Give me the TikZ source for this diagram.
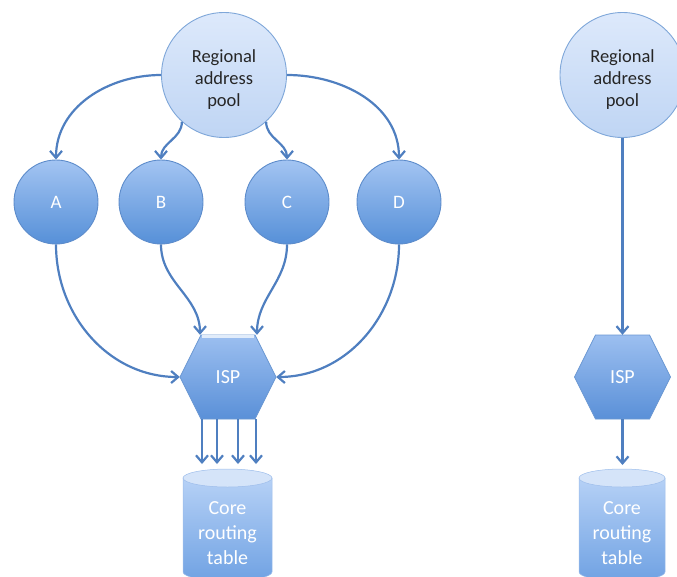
\documentclass[tikz,border=0pt]{standalone}
\usepackage{fontspec}
\setmainfont{Carlito}
\usetikzlibrary{arrows.meta,calc}
\definecolor{arrowc}{HTML}{4F7FC0}
\definecolor{poolt}{HTML}{DDE9FB}
\definecolor{poolbot}{HTML}{BFD5F4}
\definecolor{poolb}{HTML}{7FA7D9}
\definecolor{subt}{HTML}{A3C4F2}
\definecolor{subbot}{HTML}{5690D8}
\definecolor{subb}{HTML}{5D8CCB}
\definecolor{ispt}{HTML}{9CBFF0}
\definecolor{ispbot}{HTML}{5A90D8}
\definecolor{ispb}{HTML}{6A97D2}
\definecolor{cylt}{HTML}{B6D1F6}
\definecolor{cylbot}{HTML}{70A2E3}
\definecolor{cyltop}{HTML}{D5E4F9}
\definecolor{cylb}{HTML}{9DBDEB}
\begin{document}
\begin{tikzpicture}[x=1pt,y=1pt,
  arr/.style={draw=arrowc, line width=2.2pt, -{Straight Barb[length=7pt,width=12pt]}},
  pool/.style={circle, minimum size=125pt, inner sep=0pt, draw=poolb, line width=0.9pt,
    top color=poolt, bottom color=poolbot},
  pooltext/.style={align=center, text=black!85, font=\fontsize{18.5}{22}\selectfont},
  sub/.style={circle, minimum size=84pt, inner sep=0pt, draw=subb, line width=0.9pt,
    top color=subt, bottom color=subbot, text=white, font=\fontsize{19}{23}\selectfont},
  hexfill/.style={draw=ispb, line width=0.7pt, top color=ispt, bottom color=ispbot},
  ispbox/.style={rectangle, minimum width=96pt, minimum height=84pt, inner sep=0pt,
    text=white, font=\fontsize{20}{24}\selectfont},
  coretext/.style={align=center, text=white, font=\fontsize{20}{25}\selectfont},
  cylbody/.style={top color=cylt, bottom color=cylbot, draw=cylb, line width=0.5pt},
  cylcap/.style={fill=cyltop, draw=cylb, line width=0.5pt},
  hilite/.style={draw=white!70!ispt, line width=2.2pt}
]
\useasboundingbox (0,0) rectangle (677,-576);

% ---------- left diagram ----------
\node[pool] (pool1) at (224,-75) {};
\node[pooltext] (pool1t) at (224,-80) {Regional\\address\\pool};
\node[sub] (A) at (56,-202) {A};
\node[sub] (B) at (161,-202) {B};
\node[sub] (C) at (287,-202) {C};
\node[sub] (D) at (399,-202) {D};
\path[hexfill] (180,-377) -- (201,-335) -- (255,-335) -- (276,-377) -- (255,-419) -- (201,-419) -- cycle;
\draw[hilite] (202,-336.5) -- (254,-336.5);
\node[ispbox] (isp1) at (228,-377) {ISP};

% cylinder 1
\path[cylbody] (183,-478) -- (183,-572) arc[start angle=180, end angle=360, x radius=44.5, y radius=9] -- (272,-478) -- cycle;
\path[cylcap] (227.5,-478) ellipse [x radius=44.5, y radius=9];
\coordinate (cyl1) at (228,-464);
\node[coretext] (core1) at (227.5,-533) {Core\\routing\\table};

\draw[arr] (pool1.west) to[out=180,in=90] (A.north);
\draw[arr] (pool1.228) to[out=-90,in=90] (B.north);
\draw[arr] (pool1.-48) to[out=-90,in=90] (C.north);
\draw[arr] (pool1.east) to[out=0,in=90] (D.north);

\draw[arr] (A.south) to[out=-90,in=180] (isp1.west);
\draw[arr] (B.south) to[out=-90,in=90] ([xshift=-28pt]isp1.north);
\draw[arr] (C.south) to[out=-90,in=90] ([xshift=29pt]isp1.north);
\draw[arr] (D.south) to[out=-90,in=0] (isp1.east);

\draw[arr] ([xshift=-26pt]isp1.south) -- ([xshift=-26pt]cyl1);
\draw[arr] ([xshift=-11pt]isp1.south) -- ([xshift=-11pt]cyl1);
\draw[arr] ([xshift=10pt]isp1.south) -- ([xshift=10pt]cyl1);
\draw[arr] ([xshift=28pt]isp1.south) -- ([xshift=28pt]cyl1);

% ---------- right diagram ----------
\node[pool] (pool2) at (622.5,-75) {};
\node[pooltext] (pool2t) at (622.5,-80) {Regional\\address\\pool};
\path[hexfill] (574.5,-377) -- (595.5,-335) -- (649.5,-335) -- (670.5,-377) -- (649.5,-419) -- (595.5,-419) -- cycle;
\node[ispbox] (isp2) at (622.5,-377) {ISP};
\path[cylbody] (579,-478) -- (579,-572) arc[start angle=180, end angle=360, x radius=43, y radius=9] -- (665,-478) -- cycle;
\path[cylcap] (622,-478) ellipse [x radius=43, y radius=9];
\coordinate (cyl2) at (622.5,-465);
\node[coretext] (core2) at (622,-533) {Core\\routing\\table};

\draw[arr] (pool2.south) -- (isp2.north);
\draw[arr] (isp2.south) -- (cyl2);
\end{tikzpicture}
\end{document}
